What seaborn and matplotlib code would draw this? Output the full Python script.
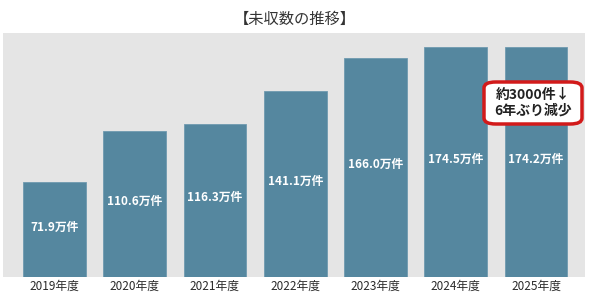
import matplotlib
matplotlib.use('Agg')
import matplotlib.pyplot as plt
import seaborn as sns
import pandas as pd
from matplotlib.patches import FancyBboxPatch

years = ['2019年度', '2020年度', '2021年度', '2022年度', '2023年度', '2024年度', '2025年度']
values = [71.9, 110.6, 116.3, 141.1, 166.0, 174.5, 174.2]
labels = ['71.9万件', '110.6万件', '116.3万件', '141.1万件', '166.0万件', '174.5万件', '174.2万件']

sns.set_style('white')
plt.rcParams['font.family'] = ['Noto Sans CJK JP', 'DejaVu Sans']

df = pd.DataFrame({'year': years, 'value': values})

fig = plt.figure(figsize=(5.9, 2.95), dpi=100)
ax = fig.add_axes([3/590, 18/295, 582/590, 244/295])
ax.set_facecolor('#e5e5e5')

sns.barplot(data=df, x='year', y='value', color='#55879f', saturation=1,
            width=0.78, edgecolor='#6f9ab0', linewidth=0.6, ax=ax)

for i, (v, t) in enumerate(zip(values, labels)):
    ax.text(i, v / 2 + 2, t, ha='center', va='center', color='white',
            fontsize=8.5, fontweight='bold')

ax.set_xlim(-0.64, 6.61)
ax.set_ylim(0, 185)
ax.set_yticks([])
ax.set_xlabel('')
ax.set_ylabel('')
ax.tick_params(axis='x', length=0, labelsize=8.5, labelcolor='#2b2b2b', pad=2)
for s in ax.spines.values():
    s.set_visible(False)

fig.text(0.5, 0.935, '【未収数の推移】', ha='center', va='center',
         fontsize=11, color='#333333')

# callout box
box = FancyBboxPatch((484/590, 171/295), 98/590, 42/295,
                     boxstyle='round,pad=0,rounding_size=0.02',
                     transform=fig.transFigure, facecolor='white',
                     edgecolor='#d21a1a', linewidth=2.5, zorder=5)
fig.patches.append(box)
fig.text(533/590, 192/295, '約3000件↓\n6年ぶり減少', ha='center', va='center',
         fontsize=10, fontweight='bold', color='#222222', linespacing=1.1,
         zorder=6)

fig.savefig('out.png', dpi=100)
